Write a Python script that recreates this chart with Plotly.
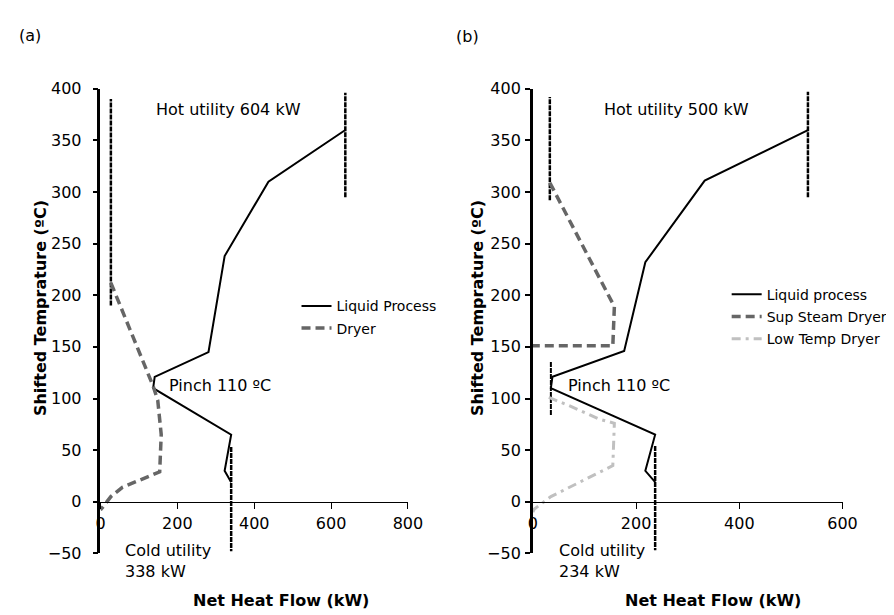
import plotly.graph_objects as go

# ---------------- data: panel (a) ----------------
a_liquid_q = [637, 437, 323, 281, 141, 137, 340, 323, 340]
a_liquid_t = [360, 310, 238, 145, 121, 110, 65, 30, 19]
a_dryer_q = [27, 137, 149, 158, 154, 57, 27, 0]
a_dryer_t = [212, 112, 98, 65, 29, 14, 5, -8]
a_hot_lo_q, a_hot_lo_t = [27, 27], [190, 390]
a_hot_hi_q, a_hot_hi_t = [637, 637], [295, 396]
a_cold_q, a_cold_t = [340, 340], [53, -48]

# ---------------- data: panel (b) ----------------
b_liquid_q = [533, 333, 218, 177, 38, 35, 237, 218, 237]
b_liquid_t = [360, 311, 232, 146, 121, 110, 65, 30, 19]
b_sup_q = [33, 158, 155, 0]
b_sup_t = [309, 189, 151, 151]
b_low_q = [31, 66, 129, 158, 155, 91, 35, 3, 0]
b_low_t = [101, 94, 80, 76, 35, 19, 5, -7, -10]
b_hot_lo_q, b_hot_lo_t = [33, 33], [292, 392]
b_hot_hi_q, b_hot_hi_t = [533, 533], [295, 397]
b_pinch_q, b_pinch_t = [35, 35], [84, 136]
b_cold_q, b_cold_t = [237, 237], [54, -47]

a_xticks = [0, 200, 400, 600, 800]
b_xticks = [0, 200, 400, 600]
yticks = list(range(-50, 401, 50))

FONT = "DejaVu Sans"
W, H = 894, 615

fig = go.Figure()

def util(q, t, xa, ya, width=2.5):
    fig.add_trace(go.Scatter(x=q, y=t, xaxis=xa, yaxis=ya, mode="lines",
                             line=dict(color="black", width=width, dash="5px,1px"),
                             showlegend=False, hoverinfo="skip"))

# panel a
util(a_hot_lo_q, a_hot_lo_t, "x", "y")
util(a_hot_hi_q, a_hot_hi_t, "x", "y")
util(a_cold_q, a_cold_t, "x", "y")
fig.add_trace(go.Scatter(x=a_liquid_q, y=a_liquid_t, xaxis="x", yaxis="y", mode="lines",
                         name="Liquid Process", legendgroup="a1", legend="legend",
                         line=dict(color="black", width=2)))
fig.add_trace(go.Scatter(x=a_dryer_q, y=a_dryer_t, xaxis="x", yaxis="y", mode="lines",
                         name="Dryer", legendgroup="a2", legend="legend",
                         line=dict(color="#666666", width=3.5, dash="9px,5px")))

# panel b
util(b_hot_lo_q, b_hot_lo_t, "x2", "y2")
util(b_hot_hi_q, b_hot_hi_t, "x2", "y2")
util(b_pinch_q, b_pinch_t, "x2", "y2", width=2)
util(b_cold_q, b_cold_t, "x2", "y2")
fig.add_trace(go.Scatter(x=b_liquid_q, y=b_liquid_t, xaxis="x2", yaxis="y2", mode="lines",
                         name="Liquid process", legendgroup="b1", legend="legend2",
                         line=dict(color="black", width=2)))
fig.add_trace(go.Scatter(x=b_sup_q, y=b_sup_t, xaxis="x2", yaxis="y2", mode="lines",
                         name="Sup Steam Dryer", legendgroup="b2", legend="legend2",
                         line=dict(color="#666666", width=3.5, dash="9px,5px")))
fig.add_trace(go.Scatter(x=b_low_q, y=b_low_t, xaxis="x2", yaxis="y2", mode="lines",
                         name="Low Temp Dryer", legendgroup="b3", legend="legend2",
                         line=dict(color="#c0c0c0", width=3, dash="9px,5px,3px,5px")))

ydom = [1 - 553.5 / H, 1 - 74 / H]
xpos = 1 - 500.2 / H

def xax(dom, rng, ticks):
    return dict(domain=dom, range=rng, anchor="free", position=xpos,
                showline=True, linecolor="black", linewidth=1,
                ticks="outside", ticklen=6, tickwidth=1, tickcolor="black",
                tickvals=ticks, showgrid=False, zeroline=False,
                ticklabelstandoff=1,
                tickfont=dict(family=FONT, size=16, color="black"))

def yax(anchor, standoff):
    return dict(domain=ydom, range=[-50, 400], anchor=anchor,
                showline=True, linecolor="black", linewidth=2.5,
                ticks="outside", ticklen=5, tickwidth=1.5, tickcolor="black",
                tickvals=yticks, showgrid=False, zeroline=False,
                ticklabelstandoff=standoff,
                tickfont=dict(family=FONT, size=16, color="black"))

fig.update_layout(
    width=W, height=H,
    margin=dict(l=0, r=0, t=0, b=0),
    paper_bgcolor="white", plot_bgcolor="white",
    font=dict(family=FONT, size=16, color="black"),
    xaxis=xax([89.5 / W, 404 / W], [0, 800], a_xticks),
    yaxis=yax("x", 8),
    xaxis2=xax([531.7 / W, 848.5 / W], [0, 600], b_xticks),
    yaxis2=yax("x2", 1),
    legend=dict(x=290 / W, y=1 - 282 / H, xanchor="left", yanchor="top",
                bgcolor="rgba(0,0,0,0)", font=dict(family=FONT, size=14),
                tracegroupgap=1),
    legend2=dict(x=730 / W, y=1 - 270 / H, xanchor="left", yanchor="top",
                 bgcolor="rgba(0,0,0,0)", font=dict(family=FONT, size=14),
                 tracegroupgap=1),
    showlegend=True,
)

ann = []
def txt(text, x, y, xref="paper", yref="paper", xanchor="center", size=16, bold=False, angle=0, align="center"):
    ann.append(dict(text=f"<b>{text}</b>" if bold else text, x=x, y=y, xref=xref, yref=yref,
                    xanchor=xanchor, yanchor="middle", showarrow=False, textangle=angle,
                    align=align, font=dict(family=FONT, size=size, color="black")))

txt("(a)", 17 / W, 1 - 19.5 / H)
txt("(b)", 465 / W, 1 - 20 / H)
txt("Hot utility 604 kW", 332, 380, "x", "y")
txt("Pinch 110 ºC", 174, 112.8, "x", "y", xanchor="left")
txt("Cold utility<br>338 kW", 113 / W, 1 - 561 / H, xanchor="left", align="left")
txt("Hot utility 500 kW", 279, 379.6, "x2", "y2")
txt("Pinch 110 ºC", 65, 112.8, "x2", "y2", xanchor="left")
txt("Cold utility<br>234 kW", 556 / W, 1 - 561 / H, xanchor="left", align="left")
txt("Net Heat Flow (kW)", 274 / W, 1 - 602 / H, bold=True, size=16)
txt("Net Heat Flow (kW)", 716 / W, 1 - 602 / H, bold=True, size=16)
txt("Shifted Temprature (ºC)", 28 / W, 1 - 300 / H, bold=True, size=16, angle=-90)
txt("Shifted Temprature (ºC)", 475 / W, 1 - 300 / H, bold=True, size=16, angle=-90)
fig.update_layout(annotations=ann)

fig.write_html("out.html")
